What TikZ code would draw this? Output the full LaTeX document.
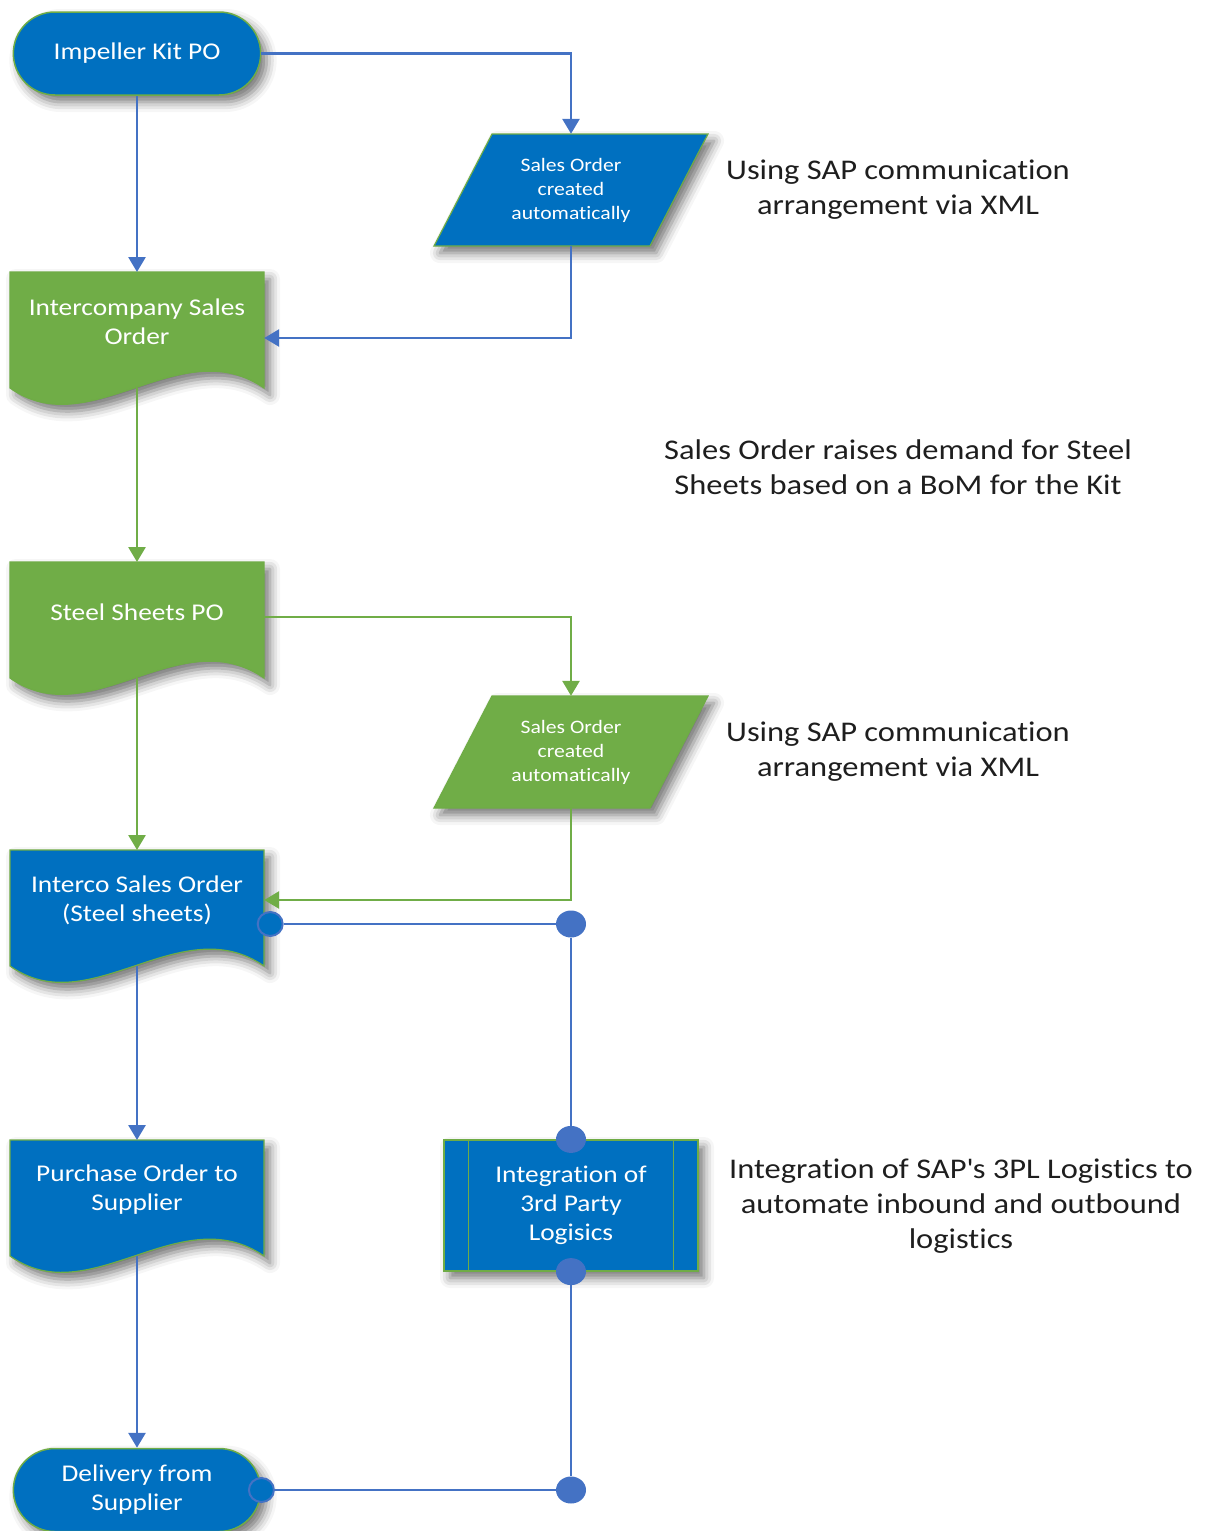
\documentclass[tikz,border=0pt]{standalone}
\usepackage{fontspec}
\setmainfont{Carlito}[FakeStretch=1.14, Ligatures=CommonOff]
\usetikzlibrary{shapes.misc,shapes.geometric,arrows.meta,calc,shadows.blur}
\definecolor{boxblue}{HTML}{0070C0}
\definecolor{boxgreen}{HTML}{70AD47}
\definecolor{linkblue}{HTML}{4472C4}
\definecolor{rimgreen}{HTML}{6FAC46}
\definecolor{notegrey}{HTML}{1E1E1E}
\newcommand\mainsize{\fontsize{24}{29}\selectfont}
\newcommand\smallsize{\fontsize{19}{24}\selectfont}
\newcommand\notesize{\fontsize{28.5}{35}\selectfont}
% document symbol: name, centre x, top y, fill colour, text
\newcommand\docsymbol[5]{%
  \filldraw[fill=#4, draw=rimgreen, line width=1.2pt, soft]
    (#2-127,#3) -- (#2+127,#3) -- (#2+127,#3+116)
    .. controls (#2+43,#3+58) and (#2-47,#3+173) .. (#2-127,#3+116) -- cycle;
  \node[anchor=north, minimum width=254pt, minimum height=116pt, inner sep=0pt] (#1) at (#2,#3) {};
  \node[boxtext] (#1-label) at (#2,#3+50) {#5};
}
% data symbol (parallelogram): name, centre x, centre y, fill colour, text
\newcommand\datasymbol[5]{%
  \filldraw[fill=#4, draw=rimgreen, line width=1.2pt, soft, shift={(#2,#3)}]
    (-79,-56) -- (137,-56) -- (79,56) -- (-137,56) -- cycle;
  \node[minimum width=160pt, minimum height=112pt, inner sep=0pt, text=white,
        font=\smallsize, align=center] (#1) at (#2,#3) {#5};
}
\begin{document}
\begin{tikzpicture}[x=1pt,y=-1pt,
  soft/.style={blur shadow={shadow xshift=6pt,shadow yshift=-7pt,shadow blur radius=10pt,shadow opacity=55}},
  boxtext/.style={text=white, font=\mainsize, align=center, inner sep=0pt},
  terminal/.style={rounded rectangle, fill=boxblue, draw=rimgreen, line width=1.5pt,
    minimum width=254pt, minimum height=83pt, text=white, font=\mainsize, align=center, soft},
  process/.style={rectangle, fill=boxblue, draw=rimgreen, line width=1.2pt,
    minimum width=254pt, minimum height=131pt, text=white, font=\mainsize, align=center, soft},
  bluelink/.style={draw=linkblue, line width=2.8pt},
  greenlink/.style={draw=boxgreen, line width=2.8pt},
  tip/.style={-{Triangle[width=17pt,length=15pt]}},
  dotfull/.style={ellipse, fill=linkblue, minimum width=30pt, minimum height=27pt, inner sep=0pt},
  dothollow/.style={ellipse, fill=boxblue, draw=linkblue, line width=2pt, minimum width=25pt, minimum height=24pt, inner sep=0pt},
  note/.style={text=notegrey, font=\notesize, align=center}
]
\useasboundingbox (0,0) rectangle (1212,1531);

% flow symbols
\node[terminal] (ikpo) at (137,53.5) {Impeller Kit PO};
\datasymbol{so1}{571}{190}{boxblue}{Sales Order\\created\\automatically}
\docsymbol{ico}{137}{272}{boxgreen}{Intercompany Sales\\Order}
\docsymbol{ssp}{137}{562}{boxgreen}{Steel Sheets PO}
\datasymbol{so2}{571}{752}{boxgreen}{Sales Order\\created\\automatically}
\docsymbol{isc}{137}{850}{boxblue}{Interco Sales Order\\(Steel sheets)}
\docsymbol{pos}{137}{1140}{boxblue}{Purchase Order to\\Supplier}
\node[process] (tpl) at (571,1205.5) {Integration of\\3rd Party\\Logisics};
\draw[rimgreen, line width=1pt] ($(tpl.north west)+(25,0)$) -- ($(tpl.south west)+(25,0)$);
\draw[rimgreen, line width=1pt] ($(tpl.north east)+(-25,0)$) -- ($(tpl.south east)+(-25,0)$);
\node[terminal] (dfs) at (137,1490) {Delivery from\\Supplier};

% annotations
\node[note] (n1) at (898,189.5) {Using SAP communication\\arrangement via XML};
\node[note] (n2) at (898,467.5) {Sales Order raises demand for Steel\\Sheets based on a BoM for the Kit};
\node[note] (n3) at (898,751.5) {Using SAP communication\\arrangement via XML};
\node[note] (n4) at (961,1206) {Integration of SAP\textquotesingle s 3PL Logistics to\\automate inbound and outbound\\logistics};

% junction dots
\node[dothollow] (h1) at ($(isc.north east)+(6,74)$) {};
\node[dotfull] (j1) at (571,924) {};
\node[dotfull] (t1) at (tpl.north) {};
\node[dotfull] (t2) at (tpl.south) {};
\node[dotfull] (j2) at (571,1490) {};
\node[dothollow] (h2) at (dfs.east) {};

% connectors
\draw[bluelink, tip] (ikpo.east) -| (so1.north);
\draw[bluelink, tip] (ikpo.south) -- (ico.north);
\draw[bluelink, tip] (so1.south) |- ($(ico.north east)+(0,66)$);
\draw[greenlink, tip] (ico.south) -- (ssp.north);
\draw[greenlink, tip] ($(ssp.north east)+(0,55)$) -| (so2.north);
\draw[greenlink, tip] (so2.south) |- ($(isc.north east)+(0,50)$);
\draw[greenlink, tip] (ssp.south) -- (isc.north);
\draw[bluelink, tip] (isc.south) -- (pos.north);
\draw[bluelink, tip] (pos.south) -- (dfs.north);
\draw[bluelink] (h1) -- (j1) -- (t1);
\draw[bluelink] (t2) -- (j2) -- (h2);
\end{tikzpicture}
\end{document}
